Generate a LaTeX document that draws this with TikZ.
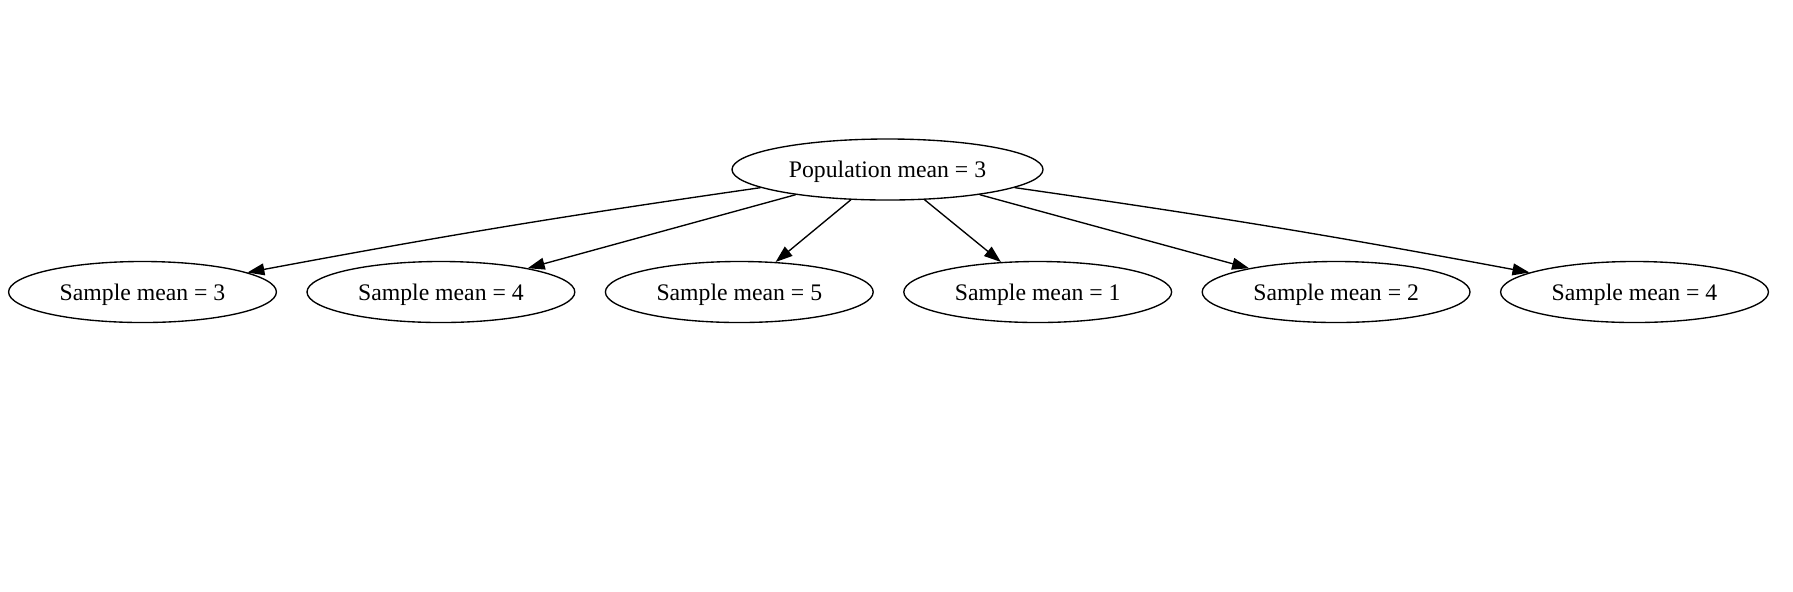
\documentclass[tikz,border=0pt]{standalone}
\usepackage{fontspec}
\setmainfont{Liberation Serif}
\usetikzlibrary{arrows.meta,shapes.geometric}

\begin{document}
\begin{tikzpicture}[x=0.59pt,y=-0.59pt,>={Triangle[length=10pt,width=7pt]},
  popnode/.style={ellipse,draw,line width=0.8pt,inner sep=0pt,minimum width=183.5pt,
    minimum height=36pt,text depth=0pt,font=\fontsize{14}{16}\selectfont},
  samplenode/.style={popnode,minimum width=158pt},
  edge/.style={->,line width=0.8pt}]
\useasboundingbox (0,0) rectangle (1793,591);
% top node
\node[popnode] (pop) at (887.5,169.5) {Population mean = 3};
% samples
\node[samplenode] (s1) at (142.5,292) {Sample mean = 3};
\node[samplenode] (s2) at (440.9,292) {Sample mean = 4};
\node[samplenode] (s3) at (739.3,292) {Sample mean = 5};
\node[samplenode] (s4) at (1037.7,292) {Sample mean = 1};
\node[samplenode] (s5) at (1336.1,292) {Sample mean = 2};
\node[samplenode] (s6) at (1634.5,292) {Sample mean = 4};
% edges
\draw[edge] (pop) to[bend right=1.2] (s1);
\draw[edge] (pop) -- (s2);
\draw[edge] (pop) -- (s3);
\draw[edge] (pop) -- (s4);
\draw[edge] (pop) -- (s5);
\draw[edge] (pop) to[bend left=1.2] (s6);
\end{tikzpicture}
\end{document}
